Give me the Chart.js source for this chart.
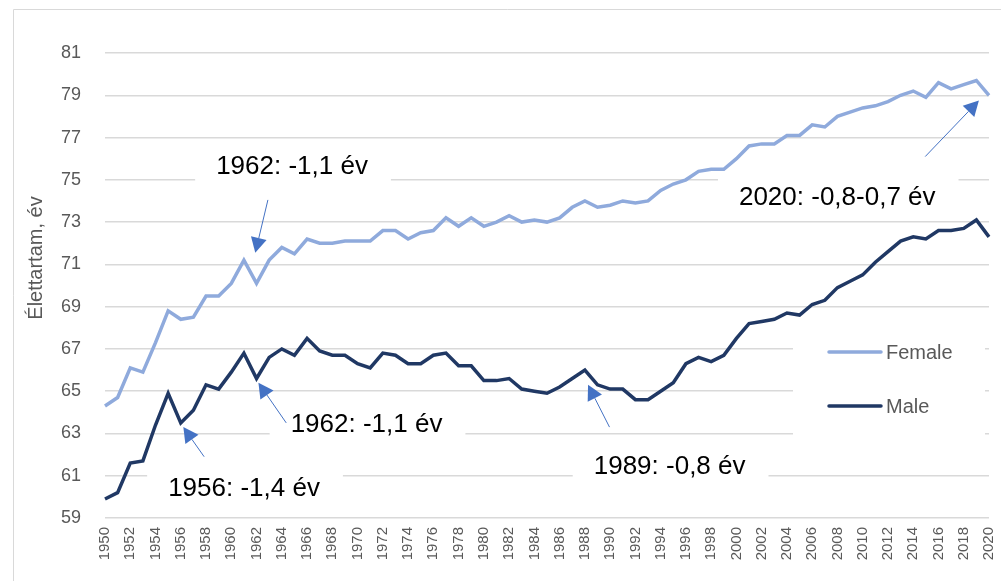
<!DOCTYPE html>
<html>
<head>
<meta charset="utf-8">
<script src="https://cdn.jsdelivr.net/npm/chart.js@4"></script>
<style>
  body { margin: 0; background: #fff; }
</style>
</head>
<body>
<canvas id="lifeChart" width="1001" height="581"></canvas>
<script>
// Years on the x axis
const years = [];
for (let y = 1950; y <= 2020; y++) years.push(y);

// Life expectancy at birth, years
const female = [
  64.3, 64.7, 66.1, 65.9, 67.3, 68.8, 68.4, 68.5, 69.5, 69.5,
  70.1, 71.2, 70.1, 71.2, 71.8, 71.5, 72.2, 72.0, 72.0, 72.1,
  72.1, 72.1, 72.6, 72.6, 72.2, 72.5, 72.6, 73.2, 72.8, 73.2,
  72.8, 73.0, 73.3, 73.0, 73.1, 73.0, 73.2, 73.7, 74.0, 73.7,
  73.8, 74.0, 73.9, 74.0, 74.5, 74.8, 75.0, 75.4, 75.5, 75.5,
  76.0, 76.6, 76.7, 76.7, 77.1, 77.1, 77.6, 77.5, 78.0, 78.2,
  78.4, 78.5, 78.7, 79.0, 79.2, 78.9, 79.6, 79.3, 79.5, 79.7,
  79.0
];
const male = [
  59.9, 60.2, 61.6, 61.7, 63.4, 64.9, 63.5, 64.1, 65.3, 65.1,
  65.9, 66.8, 65.6, 66.6, 67.0, 66.7, 67.5, 66.9, 66.7, 66.7,
  66.3, 66.1, 66.8, 66.7, 66.3, 66.3, 66.7, 66.8, 66.2, 66.2,
  65.5, 65.5, 65.6, 65.1, 65.0, 64.9, 65.2, 65.6, 66.0, 65.3,
  65.1, 65.1, 64.6, 64.6, 65.0, 65.4, 66.3, 66.6, 66.4, 66.7,
  67.5, 68.2, 68.3, 68.4, 68.7, 68.6, 69.1, 69.3, 69.9, 70.2,
  70.5, 71.1, 71.6, 72.1, 72.3, 72.2, 72.6, 72.6, 72.7, 73.1,
  72.3
];

// Callouts: text, arrow tip and arrow tail in (year, value) units
const noteTexts = ['1962: -1,1 év', '1962: -1,1 év', '1956: -1,4 év', '1989: -0,8 év', '2020: -0,8-0,7 év'];
const noteLabelAt = [[1958.8, 75.6], [1964.7, 63.4], [1955.0, 60.4], [1988.7, 61.4], [2000.2, 74.15]];
const noteTips = [[1961.9, 71.55], [1962.15, 65.4], [1956.2, 63.3], [1988.25, 65.3], [2019.2, 78.75]];
const noteTails = [[1962.9, 74.05], [1964.35, 63.5], [1957.85, 61.9], [1989.95, 63.3], [2014.95, 76.1]];

const gray = '#595959';
const noteFont = '26px "Liberation Sans", Arial, sans-serif';

function arrow(ctx, x0, y0, x1, y1) {
  const a = Math.atan2(y1 - y0, x1 - x0);
  const len = 15, half = 8;
  const bx = x1 - len * Math.cos(a), by = y1 - len * Math.sin(a);
  ctx.beginPath();
  ctx.moveTo(x0, y0);
  ctx.lineTo(bx, by);
  ctx.stroke();
  ctx.beginPath();
  ctx.moveTo(x1, y1);
  ctx.lineTo(bx + half * Math.sin(a), by - half * Math.cos(a));
  ctx.lineTo(bx - half * Math.sin(a), by + half * Math.cos(a));
  ctx.closePath();
  ctx.fill();
}

const extras = {
  id: 'extras',
  beforeDraw(chart) {
    const ctx = chart.ctx;
    // outer frame
    ctx.save();
    ctx.strokeStyle = '#d9d9d9';
    ctx.lineWidth = 1;
    ctx.beginPath();
    ctx.moveTo(13.5, 581);
    ctx.lineTo(13.5, 9.5);
    ctx.lineTo(1001, 9.5);
    ctx.stroke();
    ctx.restore();
  },
  beforeDatasetsDraw(chart) {
    const { ctx, scales } = chart;
    ctx.save();
    ctx.font = noteFont;
    ctx.fillStyle = '#fff';
    noteTexts.forEach((t, i) => {
      const px = scales.x.getPixelForValue(noteLabelAt[i][0] - 1950);
      const py = scales.y.getPixelForValue(noteLabelAt[i][1]);
      const w = ctx.measureText(t).width;
      ctx.fillRect(px - 21, py - 21, w + 44, 42);
    });
    // legend background
    ctx.fillRect(793, 322, 192, 120);
    ctx.restore();
  },
  afterDatasetsDraw(chart) {
    const { ctx, scales } = chart;
    ctx.save();
    // callout text and arrows
    ctx.font = noteFont;
    ctx.fillStyle = '#000';
    ctx.textBaseline = 'middle';
    ctx.textAlign = 'left';
    noteTexts.forEach((t, i) => {
      const px = scales.x.getPixelForValue(noteLabelAt[i][0] - 1950);
      const py = scales.y.getPixelForValue(noteLabelAt[i][1]);
      ctx.fillText(t, px, py);
    });
    ctx.strokeStyle = '#4472C4';
    ctx.fillStyle = '#4472C4';
    ctx.lineWidth = 1;
    noteTips.forEach((tip, i) => {
      arrow(ctx,
        scales.x.getPixelForValue(noteTails[i][0] - 1950), scales.y.getPixelForValue(noteTails[i][1]),
        scales.x.getPixelForValue(tip[0] - 1950), scales.y.getPixelForValue(tip[1]));
    });

    // legend
    ctx.font = '20px "Liberation Sans", Arial, sans-serif';
    ctx.lineWidth = 3.5;
    ctx.lineCap = 'round';
    chart.data.datasets.forEach((ds, i) => {
      const ly = 352 + i * 54;
      ctx.strokeStyle = ds.borderColor;
      ctx.beginPath();
      ctx.moveTo(829, ly);
      ctx.lineTo(881, ly);
      ctx.stroke();
      ctx.fillStyle = gray;
      ctx.fillText(ds.label, 886, ly + 1);
    });

    // y axis title
    ctx.translate(36, 258);
    ctx.rotate(-Math.PI / 2);
    ctx.textAlign = 'center';
    ctx.font = '20px "Liberation Sans", Arial, sans-serif';
    ctx.fillStyle = gray;
    ctx.fillText('Élettartam, év', 0, 0);
    ctx.restore();
  }
};

new Chart(document.getElementById('lifeChart'), {
  type: 'line',
  data: {
    labels: years,
    datasets: [
      {
        label: 'Female',
        data: female,
        borderColor: '#8FAADC',
        borderWidth: 3.5,
        pointRadius: 0,
        tension: 0,
      },
      {
        label: 'Male',
        data: male,
        borderColor: '#203864',
        borderWidth: 3.5,
        pointRadius: 0,
        tension: 0,
      },
    ],
  },
  options: {
    responsive: false,
    devicePixelRatio: 1,
    animation: false,
    layout: { padding: { top: 53, right: 12, left: 0, bottom: 0 } },
    plugins: {
      legend: { display: false },
      tooltip: { enabled: false },
    },
    scales: {
      x: {
        offset: false,
        grid: { display: false, drawTicks: false },
        border: { display: false },
        ticks: {
          autoSkip: false,
          minRotation: 90,
          maxRotation: 90,
          padding: 9,
          color: gray,
          font: { size: 15, family: '"Liberation Sans", Arial, sans-serif' },
          callback: (v, i) => (i % 2 === 0 ? years[i] : ''),
        },
        afterFit: (scale) => {
          scale.height = 63;
          scale.paddingLeft = 0;
          scale.paddingRight = 0;
        },
      },
      y: {
        min: 59,
        max: 81,
        grid: { color: '#d9d9d9', lineWidth: 1.5, drawTicks: false },
        border: { display: false },
        ticks: {
          stepSize: 2,
          padding: 24,
          color: gray,
          font: { size: 18, family: '"Liberation Sans", Arial, sans-serif' },
        },
        afterFit: (scale) => { scale.width = 105; },
      },
    },
  },
  plugins: [extras],
});
</script>
</body>
</html>
